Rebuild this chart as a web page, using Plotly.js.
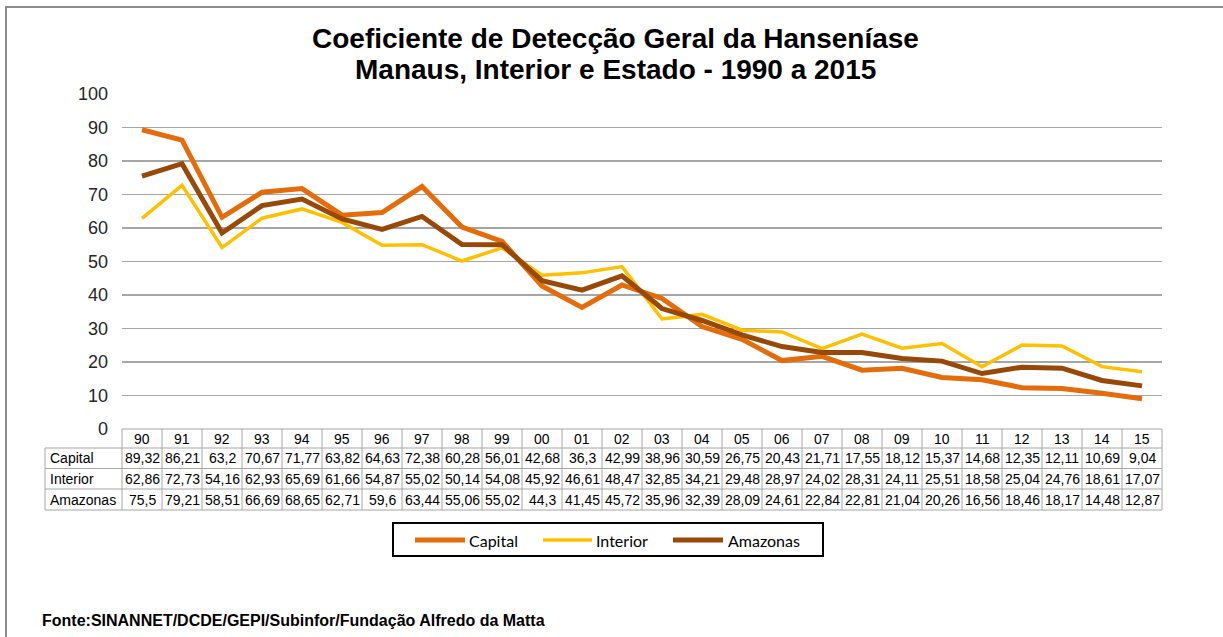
<!DOCTYPE html>
<html>
<head>
<meta charset="utf-8">
<script src="https://cdn.plot.ly/plotly-3.0.1.min.js"></script>
<style>
  html, body { margin: 0; padding: 0; background: #fff; }
  #chart { width: 1223px; height: 637px; }
</style>
</head>
<body>
<div id="chart"></div>
<script>
// ---- data ----
const years = ['90','91','92','93','94','95','96','97','98','99','00','01','02','03','04','05','06','07','08','09','10','11','12','13','14','15'];
const capital  = [89.32, 86.21, 63.2, 70.67, 71.77, 63.82, 64.63, 72.38, 60.28, 56.01, 42.68, 36.3, 42.99, 38.96, 30.59, 26.75, 20.43, 21.71, 17.55, 18.12, 15.37, 14.68, 12.35, 12.11, 10.69, 9.04];
const interior = [62.86, 72.73, 54.16, 62.93, 65.69, 61.66, 54.87, 55.02, 50.14, 54.08, 45.92, 46.61, 48.47, 32.85, 34.21, 29.48, 28.97, 24.02, 28.31, 24.11, 25.51, 18.58, 25.04, 24.76, 18.61, 17.07];
const amazonas = [75.5, 79.21, 58.51, 66.69, 68.65, 62.71, 59.6, 63.44, 55.06, 55.02, 44.3, 41.45, 45.72, 35.96, 32.39, 28.09, 24.61, 22.84, 22.81, 21.04, 20.26, 16.56, 18.46, 18.17, 14.48, 12.87];
const seriesNames = ['Capital', 'Interior', 'Amazonas'];
const titleLines = ['Coeficiente de Detecção Geral da Hanseníase', 'Manaus, Interior e Estado - 1990 a 2015'];
const sourceText = 'Fonte:SINANNET/DCDE/GEPI/Subinfor/Fundação Alfredo da Matta';

// ---- styles ----
const colors = ['#E46C0A', '#FFC000', '#984807'];
const widths = [5, 3.5, 5];
const seriesValues = [capital, interior, amazonas];
const ARIAL = '"Liberation Sans", Arial, sans-serif';

// ---- geometry helpers (pixel -> paper) ----
const W = 1223, H = 637;
const M = {l: 122, r: 61, t: 94, b: 208};
const plotW = W - M.l - M.r, plotH = H - M.t - M.b;
const px = p => (p - M.l) / plotW;
const py = p => (H - M.b - p) / plotH;

const traces = seriesNames.map((name, k) => ({
  type: 'scatter', mode: 'lines', name: name,
  x: years, y: seriesValues[k],
  line: {color: colors[k], width: widths[k]},
  hoverinfo: 'skip', showlegend: false
}));

// ---- table (shapes + annotations) ----
const gridCol = '#A6A6A6';
const rowLines = [429, 448, 468.5, 489, 510];
const rowCenters = [438.5, 458.3, 478.8, 499.5];
const labelLeft = 45;
const shapes = [];
const annotations = [];

rowLines.forEach(r => shapes.push({type: 'line', xref: 'paper', yref: 'paper', x0: 0, x1: 1, y0: py(r), y1: py(r), line: {color: gridCol, width: 1}}));
rowLines.slice(1).forEach(r => shapes.push({type: 'line', xref: 'paper', yref: 'paper', x0: px(labelLeft), x1: 0, y0: py(r), y1: py(r), line: {color: gridCol, width: 1}}));
for (let i = 1; i < years.length; i++) {
  shapes.push({type: 'line', xref: 'x', yref: 'paper', x0: i - 0.5, x1: i - 0.5, y0: py(rowLines[0]), y1: py(rowLines[4]), line: {color: gridCol, width: 1}});
}
[0, 1].forEach(xp => shapes.push({type: 'line', xref: 'paper', yref: 'paper', x0: xp, x1: xp, y0: py(rowLines[0]), y1: py(rowLines[4]), line: {color: gridCol, width: 1}}));
shapes.push({type: 'line', xref: 'paper', yref: 'paper', x0: px(labelLeft), x1: px(labelLeft), y0: py(rowLines[1]), y1: py(rowLines[4]), line: {color: gridCol, width: 1}});

// outer frame
shapes.push({type: 'rect', xref: 'paper', yref: 'paper', x0: px(6), x1: px(1260), y0: py(7), y1: py(680), line: {color: '#8C8C8C', width: 2}, fillcolor: 'rgba(0,0,0,0)'});

const cellFont = {family: ARIAL, size: 14, color: '#000'};
years.forEach((yr, i) => {
  annotations.push({xref: 'x', yref: 'paper', x: i, y: py(rowCenters[0]), text: yr, showarrow: false, font: cellFont, xanchor: 'center', yanchor: 'middle'});
  seriesValues.forEach((vals, k) => {
    annotations.push({xref: 'x', yref: 'paper', x: i, y: py(rowCenters[k + 1]), text: String(vals[i]).replace('.', ','), showarrow: false, font: cellFont, xanchor: 'center', yanchor: 'middle'});
  });
});
seriesNames.forEach((name, k) => {
  annotations.push({xref: 'paper', yref: 'paper', x: px(labelLeft + 3), y: py(rowCenters[k + 1]), text: name, showarrow: false, font: cellFont, xanchor: 'left', yanchor: 'middle'});
});

// ---- legend box (drawn) ----
const legBox = {x0: 393, x1: 823, y0: 523, y1: 556, yc: 540};
const legSample = [[415, 465], [543, 592], [673, 723]];
const legTextX = [467, 594, 726];
shapes.push({type: 'rect', xref: 'paper', yref: 'paper', x0: px(legBox.x0), x1: px(legBox.x1), y0: py(legBox.y0), y1: py(legBox.y1), line: {color: '#000', width: 2}, fillcolor: '#fff'});
seriesNames.forEach((name, k) => {
  shapes.push({type: 'line', xref: 'paper', yref: 'paper', x0: px(legSample[k][0]), x1: px(legSample[k][1]), y0: py(legBox.yc), y1: py(legBox.yc), line: {color: colors[k], width: widths[k]}});
  annotations.push({xref: 'paper', yref: 'paper', x: px(legTextX[k]), y: py(legBox.yc), text: name, showarrow: false, xanchor: 'left', yanchor: 'middle', font: {family: 'Lato, Carlito, sans-serif', size: 16, color: '#000'}});
});

// ---- titles & source ----
const titleFont = {family: ARIAL, size: 28, color: '#000'};
annotations.push({xref: 'paper', yref: 'paper', x: px(615), y: py(38.5), text: '<b>' + titleLines[0] + '</b>', showarrow: false, xanchor: 'center', yanchor: 'middle', font: titleFont});
annotations.push({xref: 'paper', yref: 'paper', x: px(615), y: py(69.5), text: '<b>' + titleLines[1] + '</b>', showarrow: false, xanchor: 'center', yanchor: 'middle', font: titleFont});
annotations.push({xref: 'paper', yref: 'paper', x: px(40), y: py(620), text: '<b>' + sourceText + '</b>', showarrow: false, xanchor: 'left', yanchor: 'middle', font: {family: ARIAL, size: 16, color: '#000'}});

const layout = {
  width: W, height: H,
  margin: M,
  paper_bgcolor: '#fff', plot_bgcolor: '#fff',
  xaxis: {
    type: 'category', categoryarray: years, range: [-0.5, years.length - 0.5],
    showticklabels: false, showgrid: false, zeroline: false, showline: false, ticks: '', fixedrange: true
  },
  yaxis: {
    range: [0, 100], dtick: 10, tick0: 0,
    showgrid: true, gridcolor: gridCol, gridwidth: 1.3,
    zeroline: false, showline: false, ticks: '',
    ticklabelstandoff: 13,
    tickfont: {family: ARIAL, size: 18, color: '#262626'},
    fixedrange: true
  },
  showlegend: false,
  shapes: shapes,
  annotations: annotations
};

Plotly.newPlot('chart', traces, layout, {displayModeBar: false, staticPlot: true});
</script>
</body>
</html>
